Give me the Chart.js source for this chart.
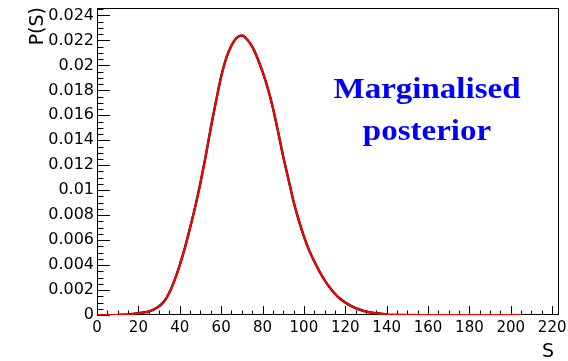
<!DOCTYPE html>
<html>
<head>
<meta charset="utf-8">
<script src="https://cdn.jsdelivr.net/npm/chart.js@4.4.1/dist/chart.umd.min.js"></script>
<style>
  body { margin: 0; background: #fff; }
  canvas { display: block; }
</style>
</head>
<body>
<canvas id="myChart" width="568" height="361"></canvas>
<script>
// S values and the posterior
const sValues = [0, 5, 10, 15, 20, 22.5, 25, 27.5, 30, 32.5, 35, 37.5, 40, 42.5, 45, 47.5,
  50, 52.5, 55, 57.5, 60, 62.5, 65, 67.5, 70, 72.5, 75, 77.5, 80, 82.5, 85, 87.5, 90, 92.5,
  95, 97.5, 100, 102.5, 105, 107.5, 110, 112.5, 115, 117.5, 120, 122.5, 125, 127.5, 130,
  135, 140, 145, 150, 155, 160, 170, 180, 190, 200, 205];
const posterior = [0, 0, 0.00001, 0.00005, 0.00014, 0.0002, 0.00028, 0.00045, 0.0007, 0.0011,
  0.0018, 0.0028, 0.0040, 0.0054, 0.0070, 0.0087, 0.0106, 0.0127, 0.0150, 0.0171,
  0.0191, 0.0206, 0.0216, 0.0222, 0.0224, 0.0221, 0.0215, 0.0206, 0.0195, 0.0182,
  0.0166, 0.0147, 0.0127, 0.0109, 0.0091, 0.0076, 0.0063, 0.0052, 0.0043, 0.0035,
  0.0028, 0.0022, 0.0017, 0.0013, 0.0010, 0.00075, 0.00055, 0.0004, 0.00028,
  0.00014, 0.00007, 0.00004, 0.00002, 0.00001, 0, 0, 0, 0, 0, 0];
const histRange = [10, 140];
const xTickStep = 20;
const yTickStep = 0.002;
const xMax = 223.3;
const yMax = 0.0246;
const noteLines = ['Marginalised', 'posterior'];

Chart.defaults.font.family = '"DejaVu Sans", sans-serif';
Chart.defaults.color = '#000';

const curvePoints = sValues.map((s, i) => ({ x: s, y: posterior[i] }));
const histPoints = curvePoints.filter(p => p.x >= histRange[0] && p.x <= histRange[1]);

// ROOT-like frame, inside ticks and texts
const rootStyle = {
  id: 'rootStyle',
  beforeDatasetsDraw(chart) {
    const { ctx, chartArea: a, scales: { x, y } } = chart;
    ctx.save();
    ctx.strokeStyle = '#000';
    ctx.lineWidth = 1;
    ctx.strokeRect(a.left + 0.5, a.top + 0.5, a.right - a.left - 1, a.bottom - a.top - 1);

    ctx.beginPath();
    for (let i = 0; i * xTickStep / 4 <= x.max; i++) {
      const px = Math.round(x.getPixelForValue(i * xTickStep / 4)) + 0.5;
      ctx.moveTo(px, a.bottom);
      ctx.lineTo(px, a.bottom - (i % 4 === 0 ? 9 : 4.5));
    }
    for (let i = 0; i * yTickStep / 4 <= y.max; i++) {
      const py = Math.round(y.getPixelForValue(i * yTickStep / 4)) + 0.5;
      ctx.moveTo(a.left, py);
      ctx.lineTo(a.left + (i % 4 === 0 ? 13 : 6.5), py);
    }
    ctx.stroke();
    ctx.restore();
  },
  afterDraw(chart) {
    const { ctx } = chart;
    ctx.save();
    // axis titles
    ctx.fillStyle = '#000';
    ctx.font = '19px "DejaVu Sans"';
    ctx.textAlign = 'right';
    ctx.textBaseline = 'alphabetic';
    ctx.fillText('S', 554, 357);
    ctx.save();
    ctx.translate(43, 7);
    ctx.rotate(-Math.PI / 2);
    ctx.fillText('P(S)', 0, 0);
    ctx.restore();

    // note
    ctx.fillStyle = '#0000ff';
    ctx.font = 'bold 30px "Liberation Serif"';
    ctx.textAlign = 'center';
    ctx.translate(427, 0);
    ctx.scale(1.1, 1);
    ctx.fillText(noteLines[0], 0, 98);
    ctx.fillText(noteLines[1], 0, 140);
    ctx.restore();
  }
};

let chart = new Chart(document.getElementById('myChart').getContext('2d'), {
  type: 'line',
  data: {
    datasets: [{
      label: 'posterior',
      data: curvePoints,
      borderColor: '#ff0000',
      borderWidth: 2,
      cubicInterpolationMode: 'monotone',
      pointRadius: 0,
      order: 1
    }, {
      label: 'histogram',
      data: histPoints,
      borderColor: '#000000',
      borderWidth: 2.4,
      cubicInterpolationMode: 'monotone',
      pointRadius: 0,
      order: 2
    }]
  },
  options: {
    responsive: false,
    animation: false,
    layout: { padding: { left: 0, top: 8, right: 9, bottom: 0 } },
    plugins: {
      legend: { display: false },
      tooltip: { enabled: false }
    },
    scales: {
      x: {
        type: 'linear',
        min: 0,
        max: xMax,
        grid: { display: false, drawTicks: false },
        border: { display: false },
        ticks: { stepSize: xTickStep, includeBounds: false, padding: 4, maxRotation: 0, autoSkip: false, font: { size: 15 } },
        afterFit(scale) {
          scale.height = 46;
          scale.paddingLeft = 0;
          scale.paddingRight = 0;
        }
      },
      y: {
        min: 0,
        max: yMax,
        grid: { display: false, drawTicks: false },
        border: { display: false },
        ticks: {
          stepSize: yTickStep,
          includeBounds: false,
          padding: 3,
          autoSkip: false,
          font: { size: 16 },
          callback: v => String(+v.toFixed(4))
        },
        afterFit(scale) {
          scale.width = 97;
          scale.paddingTop = 0;
          scale.paddingBottom = 0;
        }
      }
    }
  },
  plugins: [rootStyle]
});
</script>
</body>
</html>
